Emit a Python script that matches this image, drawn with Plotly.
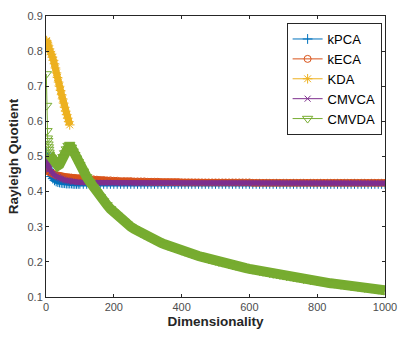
import plotly.graph_objects as go

# dimensionality grid shared by the long series
DIMS = list(range(1, 11)) + list(range(15, 101, 5)) + list(range(110, 1001, 10))

KPCA = [0.510, 0.500, 0.491, 0.483, 0.476, 0.470, 0.465, 0.460, 0.456, 0.452,
        0.443, 0.437, 0.432, 0.429, 0.427, 0.426, 0.425, 0.424, 0.424, 0.423,
        0.423, 0.423, 0.423, 0.422, 0.422, 0.422, 0.422, 0.422,
        0.422, 0.422, 0.422, 0.422, 0.422, 0.422, 0.422, 0.422, 0.422, 0.422,
        0.422, 0.422, 0.422, 0.422, 0.422, 0.422, 0.422, 0.422, 0.422, 0.422,
        0.422, 0.422, 0.422, 0.422, 0.422, 0.422, 0.422, 0.422, 0.422, 0.422,
        0.422, 0.422, 0.422, 0.422, 0.422, 0.422, 0.422, 0.422, 0.422, 0.422,
        0.422, 0.422, 0.422, 0.422, 0.422, 0.422, 0.422, 0.422, 0.422, 0.422,
        0.422, 0.422, 0.422, 0.422, 0.422, 0.422, 0.422, 0.422, 0.422, 0.422,
        0.422, 0.422, 0.422, 0.422, 0.422, 0.422, 0.422, 0.422, 0.422, 0.422,
        0.422, 0.422, 0.422, 0.422, 0.422, 0.422, 0.422, 0.422, 0.422, 0.422,
        0.422, 0.422, 0.422, 0.422, 0.422, 0.422, 0.422, 0.422, 0.422, 0.422,
        0.422]

KECA = [0.478, 0.471, 0.467, 0.464, 0.462, 0.460, 0.459, 0.458, 0.457, 0.456,
        0.453, 0.451, 0.449, 0.447, 0.446, 0.445, 0.444, 0.443, 0.442, 0.441,
        0.441, 0.440, 0.440, 0.439, 0.439, 0.438, 0.438, 0.438,
        0.437, 0.436, 0.435, 0.435, 0.434, 0.433, 0.433, 0.432, 0.432, 0.431,
        0.431, 0.430, 0.430, 0.430, 0.430, 0.429, 0.429, 0.429, 0.429, 0.428,
        0.428, 0.428, 0.428, 0.427, 0.427, 0.427, 0.427, 0.427, 0.427, 0.426,
        0.426, 0.426, 0.426, 0.426, 0.426, 0.426, 0.426, 0.426, 0.426, 0.426,
        0.426, 0.426, 0.426, 0.426, 0.426, 0.426, 0.426, 0.426, 0.426, 0.426,
        0.425, 0.425, 0.425, 0.425, 0.425, 0.425, 0.425, 0.425, 0.425, 0.425,
        0.425, 0.425, 0.425, 0.425, 0.425, 0.425, 0.425, 0.425, 0.425, 0.425,
        0.425, 0.425, 0.425, 0.425, 0.425, 0.425, 0.425, 0.425, 0.425, 0.425,
        0.425, 0.425, 0.425, 0.425, 0.425, 0.425, 0.425, 0.425, 0.425, 0.425,
        0.425]

CMVCA = [0.500, 0.492, 0.486, 0.481, 0.477, 0.473, 0.470, 0.467, 0.465, 0.463,
         0.456, 0.451, 0.447, 0.444, 0.441, 0.439, 0.437, 0.435, 0.433, 0.432,
         0.431, 0.430, 0.429, 0.428, 0.428, 0.427, 0.427, 0.426,
         0.426, 0.426, 0.425, 0.425, 0.425, 0.425, 0.425, 0.425, 0.425, 0.425,
         0.424, 0.424, 0.424, 0.424, 0.424, 0.424, 0.424, 0.424, 0.424, 0.424,
         0.424, 0.424, 0.424, 0.424, 0.424, 0.424, 0.424, 0.424, 0.424, 0.424,
         0.424, 0.424, 0.424, 0.424, 0.424, 0.424, 0.424, 0.424, 0.424, 0.424,
         0.424, 0.424, 0.424, 0.424, 0.424, 0.424, 0.424, 0.424, 0.424, 0.424,
         0.424, 0.424, 0.424, 0.424, 0.424, 0.424, 0.424, 0.424, 0.424, 0.424,
         0.424, 0.424, 0.424, 0.424, 0.424, 0.424, 0.424, 0.424, 0.424, 0.424,
         0.424, 0.424, 0.424, 0.424, 0.424, 0.424, 0.424, 0.424, 0.424, 0.424,
         0.424, 0.424, 0.424, 0.424, 0.424, 0.424, 0.424, 0.424, 0.424, 0.424,
         0.424]

CMVDA = [0.735, 0.645, 0.573, 0.552, 0.545, 0.535, 0.527, 0.520, 0.512, 0.506,
         0.497, 0.490, 0.485, 0.479, 0.474, 0.477, 0.488, 0.499, 0.510, 0.521,
         0.531, 0.534, 0.526, 0.515, 0.505, 0.495, 0.485, 0.476,
         0.458, 0.442, 0.427, 0.412, 0.398, 0.385, 0.373, 0.362, 0.351, 0.341,
         0.332, 0.323, 0.315, 0.307, 0.300, 0.294, 0.288, 0.282, 0.277, 0.272,
         0.267, 0.262, 0.258, 0.254, 0.250, 0.246, 0.242, 0.239, 0.236, 0.232,
         0.229, 0.226, 0.223, 0.220, 0.217, 0.214, 0.211, 0.208, 0.206, 0.203,
         0.200, 0.198, 0.196, 0.193, 0.191, 0.189, 0.187, 0.184, 0.182, 0.180,
         0.178, 0.176, 0.174, 0.172, 0.170, 0.168, 0.166, 0.165, 0.163, 0.161,
         0.159, 0.158, 0.156, 0.155, 0.153, 0.151, 0.150, 0.148, 0.147, 0.145,
         0.144, 0.142, 0.141, 0.139, 0.138, 0.137, 0.135, 0.134, 0.133, 0.131,
         0.130, 0.129, 0.127, 0.126, 0.125, 0.124, 0.123, 0.121, 0.120, 0.119]

# KDA only has a few dimensions
KDA_DIMS = [1, 2, 3, 5, 7, 10, 13, 16, 19, 22, 25, 28, 31, 34, 37, 40, 43, 46,
            49, 52, 55, 58, 61, 64, 67, 70]
KDA = [0.830, 0.828, 0.825, 0.820, 0.815, 0.806, 0.798, 0.791, 0.783, 0.774,
       0.764, 0.752, 0.738, 0.725, 0.712, 0.700, 0.688, 0.676, 0.664, 0.652,
       0.640, 0.629, 0.619, 0.609, 0.599, 0.590]

FONT = "Arial, Liberation Sans, sans-serif"
AX = "#262626"

# name, x, y, colour, marker symbol, marker size, band width, band start index
series = [
    ("kPCA", DIMS, KPCA, "#0072BD", "cross-thin-open", 7, 5, 0),
    ("kECA", DIMS, KECA, "#D95319", "circle-open", 7, 6, 0),
    ("KDA", KDA_DIMS, KDA, "#EDB120", "asterisk-open", 8, 7, 0),
    ("CMVCA", DIMS, CMVCA, "#7E2F8E", "x-thin-open", 6, 5, 0),
    ("CMVDA", DIMS, CMVDA, "#77AC30", "triangle-down-open", 9, 10, 9),
]

fig = go.Figure()
for name, xs, ys, col, sym, sz, bw, start in series:
    # thick band where markers pile up
    fig.add_trace(go.Scatter(
        x=xs[start:], y=ys[start:], mode="lines", showlegend=False, hoverinfo="skip",
        line=dict(color=col, width=bw),
    ))
    fig.add_trace(go.Scatter(
        x=xs, y=ys, name=name, mode="lines+markers",
        line=dict(color=col, width=1),
        marker=dict(symbol=sym, size=sz, color=col, line=dict(color=col, width=1)),
    ))

axis = dict(showgrid=False, zeroline=False, showline=True, linecolor=AX, linewidth=1,
            mirror="ticks", ticks="inside", ticklen=3, tickcolor=AX,
            tickfont=dict(family=FONT, size=11, color="#4d4d4d"))

fig.update_layout(
    width=407, height=340,
    paper_bgcolor="white", plot_bgcolor="white",
    font=dict(family=FONT, color=AX),
    margin=dict(l=46, r=16, t=10, b=43),
    showlegend=True,
    legend=dict(x=0.99, xanchor="right", y=0.975, yanchor="top",
                bordercolor=AX, borderwidth=1, bgcolor="white",
                font=dict(family=FONT, size=13, color="#000000"),
                tracegroupgap=0),
    xaxis=dict(axis, range=[0, 1000], tickvals=[0, 200, 400, 600, 800, 1000],
               title=dict(text="<b>Dimensionality</b>", font=dict(size=13.5, color=AX), standoff=4)),
    yaxis=dict(axis, range=[0.1, 0.9], tickvals=[0.1, 0.2, 0.3, 0.4, 0.5, 0.6, 0.7, 0.8, 0.9],
               tickformat=".1f",
               title=dict(text="<b>Rayleigh Quotient</b>", font=dict(size=13.5, color=AX), standoff=5)),
)

# drop the default page margin so the figure sits at the window origin
fig.write_html("out.html", config={"displayModeBar": False},
               post_script="document.body.style.margin='0';")
